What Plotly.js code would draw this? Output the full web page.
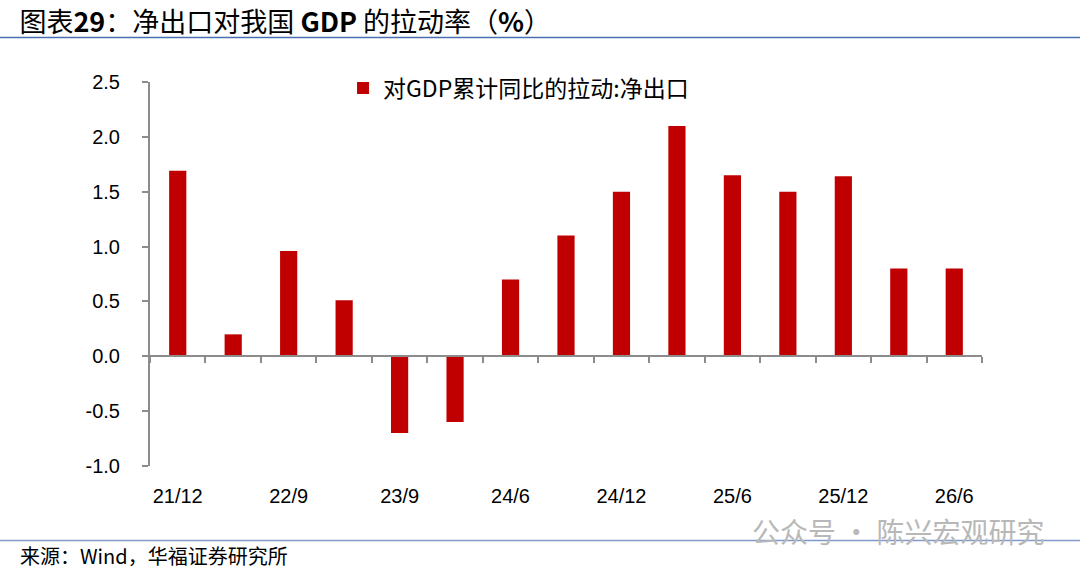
<!DOCTYPE html>
<html>
<head>
<meta charset="utf-8">
<script src="https://cdn.plot.ly/plotly-3.0.1.min.js"></script>
<style>
  html, body { margin: 0; padding: 0; background: #fff; }
  #chart { width: 1080px; height: 571px; }
</style>
</head>
<body>
<div id="chart"></div>
<script>
// quarters shown on the chart (only every other one gets a label)
var periods = ['21/12', '22/6', '22/9', '23/3', '23/9', '24/3', '24/6', '24/9',
               '24/12', '25/3', '25/6', '25/9', '25/12', '26/3', '26/6'];
// net exports contribution to cumulative GDP growth, %
var netExports = [1.69, 0.2, 0.96, 0.51, -0.7, -0.6, 0.7, 1.1,
                  1.5, 2.1, 1.65, 1.5, 1.64, 0.8, 0.8];
var seriesName = '对GDP累计同比的拉动:净出口';
var yTickVals = [-1.0, -0.5, 0.0, 0.5, 1.0, 1.5, 2.0, 2.5];
var yTickText = ['-1.0', '-0.5', '0.0', '0.5', '1.0', '1.5', '2.0', '2.5'];
var labelled = periods.filter(function (p, i) { return i % 2 === 0; });

var cn = '"Noto Sans CJK SC", "Liberation Sans", Arial, sans-serif';
var num = '"Liberation Sans", Arial, sans-serif';
var axisGrey = '#8c8c8c';

var yMin = -1.0, yMax = 2.5;
var zeroPos = (0 - yMin) / (yMax - yMin);

var bars = {
    type: 'bar',
    name: seriesName,
    x: periods,
    y: netExports,
    width: 0.31,
    marker: { color: '#c00000' },
    xaxis: 'x',
    yaxis: 'y',
    hoverinfo: 'x+y'
};

// invisible trace so the bottom label axis knows the categories
var labelsTrace = {
    type: 'scatter',
    mode: 'markers',
    x: periods,
    y: periods.map(function () { return null; }),
    xaxis: 'x2',
    yaxis: 'y',
    showlegend: false,
    hoverinfo: 'skip'
};

var layout = {
    width: 1080,
    height: 571,
    paper_bgcolor: '#fff',
    plot_bgcolor: '#fff',
    margin: { l: 150, r: 98, t: 82, b: 105 },
    showlegend: true,
    title: {
        text: '图表<b>29</b>：净出口对我国 <b>GDP</b> 的拉动率（<b>%</b>）',
        x: 0.018, xanchor: 'left', xref: 'container',
        y: 0.961, yanchor: 'middle', yref: 'container',
        font: { family: cn, size: 27, color: '#000' }
    },
    legend: {
        x: 0.232, xanchor: 'left',
        y: 1.04, yanchor: 'top',
        font: { family: cn, size: 23, color: '#000' },
        bgcolor: 'rgba(0,0,0,0)',
        itemwidth: 30
    },
    xaxis: {
        type: 'category',
        anchor: 'free',
        position: zeroPos,
        range: [-0.5, periods.length - 0.5],
        showline: true,
        linecolor: axisGrey,
        linewidth: 2,
        ticks: 'outside',
        tickson: 'boundaries',
        ticklen: 6,
        tickwidth: 2,
        tickcolor: axisGrey,
        showticklabels: false,
        showgrid: false,
        zeroline: false,
        fixedrange: true
    },
    xaxis2: {
        type: 'category',
        overlaying: 'x',
        anchor: 'y',
        side: 'bottom',
        matches: 'x',
        tickmode: 'array',
        tickvals: labelled,
        ticktext: labelled,
        ticks: '',
        showline: false,
        showgrid: false,
        zeroline: false,
        ticklabelstandoff: 16,
        tickfont: { family: num, size: 20, color: '#000' }
    },
    yaxis: {
        range: [yMin, yMax],
        tickmode: 'array',
        tickvals: yTickVals,
        ticktext: yTickText,
        showline: true,
        linecolor: axisGrey,
        linewidth: 2,
        ticks: 'outside',
        ticklen: 6,
        tickwidth: 2,
        tickcolor: axisGrey,
        showgrid: false,
        zeroline: false,
        ticklabelstandoff: 18,
        tickfont: { family: num, size: 20, color: '#000' },
        fixedrange: true
    },
    shapes: [
        { type: 'line', xref: 'paper', yref: 'paper',
          x0: -150 / 832, x1: 930 / 832, y0: 1.116, y1: 1.116,
          line: { color: '#4a6fb0', width: 1.5 } },
        { type: 'line', xref: 'paper', yref: 'paper',
          x0: -150 / 832, x1: 930 / 832, y0: -0.194, y1: -0.194,
          line: { color: '#7f9acb', width: 1.5 } }
    ],
    annotations: [
        { text: '来源：Wind，华福证券研究所', xref: 'paper', yref: 'paper',
          x: -132 / 832, y: -0.232, xanchor: 'left', yanchor: 'middle',
          showarrow: false, font: { family: cn, size: 20, color: '#000' } },
        { text: '公众号 · 陈兴宏观研究', xref: 'paper', yref: 'paper',
          x: 897 / 832, y: -0.168, xanchor: 'right', yanchor: 'middle',
          showarrow: false, font: { family: cn, size: 28, color: '#b8b8b8' } }
    ]
};

Plotly.newPlot('chart', [bars, labelsTrace], layout, { displayModeBar: false, staticPlot: true });
</script>
</body>
</html>
